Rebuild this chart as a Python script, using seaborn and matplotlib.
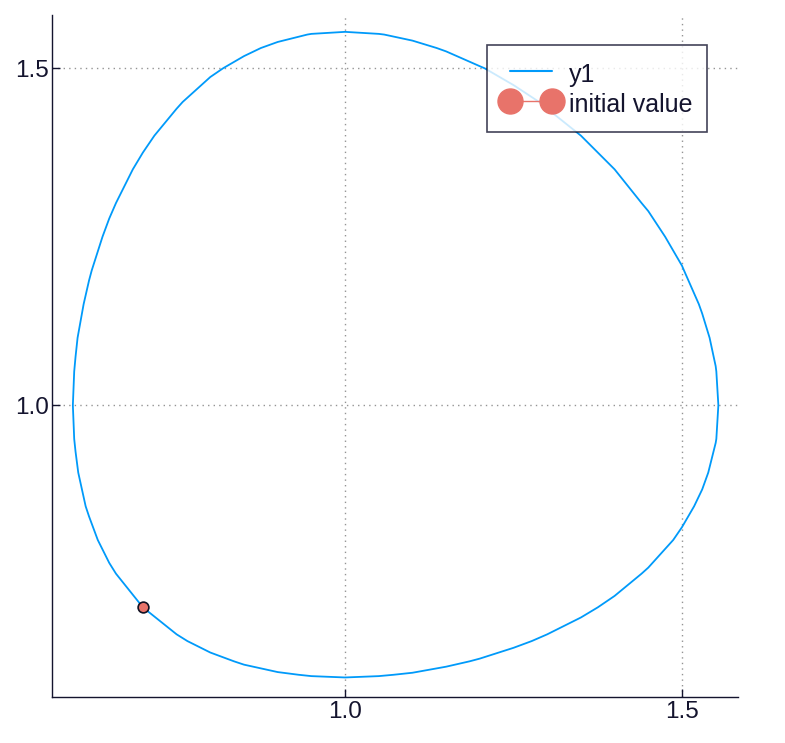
import matplotlib
matplotlib.use("Agg")
import matplotlib.pyplot as plt
from matplotlib.lines import Line2D
import seaborn as sns
import numpy as np
import pandas as pd

# Orbit. The orbit is mirror-symmetric about y = x, so each
# column position gives a lower and an upper crossing of the curve.
grid_x = [0.60, 0.62, 0.65, 0.70, 0.75, 0.80, 0.85, 0.90, 0.95, 1.00, 1.05,
          1.10, 1.15, 1.20, 1.25, 1.30, 1.35, 1.40, 1.45, 1.50, 1.53, 1.55]
lower_y = [0.931, 0.835, 0.766, 0.700, 0.660, 0.633, 0.615, 0.604, 0.598, 0.596, 0.598,
           0.603, 0.612, 0.624, 0.640, 0.660, 0.685, 0.717, 0.759, 0.819, 0.875, 0.944]
upper_y = [1.072, 1.185, 1.277, 1.375, 1.440, 1.487, 1.518, 1.539, 1.551, 1.554, 1.551,
           1.541, 1.525, 1.503, 1.475, 1.440, 1.400, 1.350, 1.288, 1.207, 1.136, 1.058]
extreme_x = [0.596, 1.554]   # leftmost / rightmost points, at y = 1.0
extreme_y = [1.0, 1.0]

init_x = [0.70]
init_y = [0.70]

series_labels = ["y1", "initial value"]
x_ticks = [1.0, 1.5]
y_ticks = [1.0, 1.5]

line_color = "#009AFA"
point_color = "#E8736A"
text_color = "#14142e"

# assemble the closed orbit from the read-off crossings
gx = np.array(grid_x); lo = np.array(lower_y); up = np.array(upper_y)
ex = np.array(extreme_x); ey = np.array(extreme_y)
px = np.concatenate([gx, lo, gx, up, ex, ey])
py = np.concatenate([lo, gx, up, gx, ey, ex])
pts = np.unique(np.round(np.column_stack([px, py]), 4), axis=0)
ang = np.arctan2(pts[:, 1] - 1.0, pts[:, 0] - 1.0)
start = np.arctan2(init_y[0] - 1.0, init_x[0] - 1.0)
order = np.argsort((ang - start) % (2 * np.pi))
pts = pts[order]
pts = np.vstack([pts, pts[:1]])
orbit = pd.DataFrame({"x": pts[:, 0], "y": pts[:, 1]})
init = pd.DataFrame({"x": init_x, "y": init_y})

sns.set_theme(style="white")
plt.rcParams["font.family"] = ["Liberation Sans", "DejaVu Sans"]

fig = plt.figure(figsize=(7.85, 7.43), dpi=100)
ax = fig.add_axes([0.0662, 0.0619, 0.8738, 0.9179])

sns.lineplot(data=orbit, x="x", y="y", sort=False, estimator=None,
             color=line_color, linewidth=1.3, ax=ax, zorder=3)
sns.scatterplot(data=init, x="x", y="y", color=point_color, s=60,
                edgecolor="#111122", linewidth=1.2, ax=ax, zorder=4)

ax.set_xlim(0.565, 1.583)
ax.set_ylim(0.567, 1.579)
ax.set_xticks(x_ticks)
ax.set_yticks(y_ticks)
ax.set_xticklabels([f"{t:.1f}" for t in x_ticks])
ax.set_yticklabels([f"{t:.1f}" for t in y_ticks])
ax.set_xlabel("")
ax.set_ylabel("")

for side in ["top", "right"]:
    ax.spines[side].set_visible(False)
for side in ["left", "bottom"]:
    ax.spines[side].set_color(text_color)
    ax.spines[side].set_linewidth(1.0)

ax.tick_params(axis="both", direction="in", length=6, width=1.0,
               colors=text_color, labelsize=17.5, bottom=True, left=True)
ax.tick_params(axis="y", pad=2)
ax.tick_params(axis="x", pad=3)
ax.grid(True, linestyle=(0, (1, 3)), color="#888888", linewidth=1.0, alpha=0.9)
ax.set_axisbelow(True)

handles = [
    Line2D([], [], color=line_color, linewidth=1.5),
    Line2D([], [], color=point_color, linewidth=1.0, marker="o",
           markersize=18, markerfacecolor=point_color,
           markeredgecolor=point_color),
]
leg = ax.legend(handles, series_labels, loc="upper right",
                bbox_to_anchor=(0.955, 0.956), borderaxespad=0,
                fontsize=18, frameon=True, fancybox=False, numpoints=2,
                handlelength=2.3, handleheight=1.24, handletextpad=0.36,
                labelspacing=0.16, borderpad=0.6)
leg.get_frame().set_edgecolor(text_color)
leg.get_frame().set_linewidth(1.2)
for t in leg.get_texts():
    t.set_color(text_color)

fig.savefig("out.png", dpi=100)
